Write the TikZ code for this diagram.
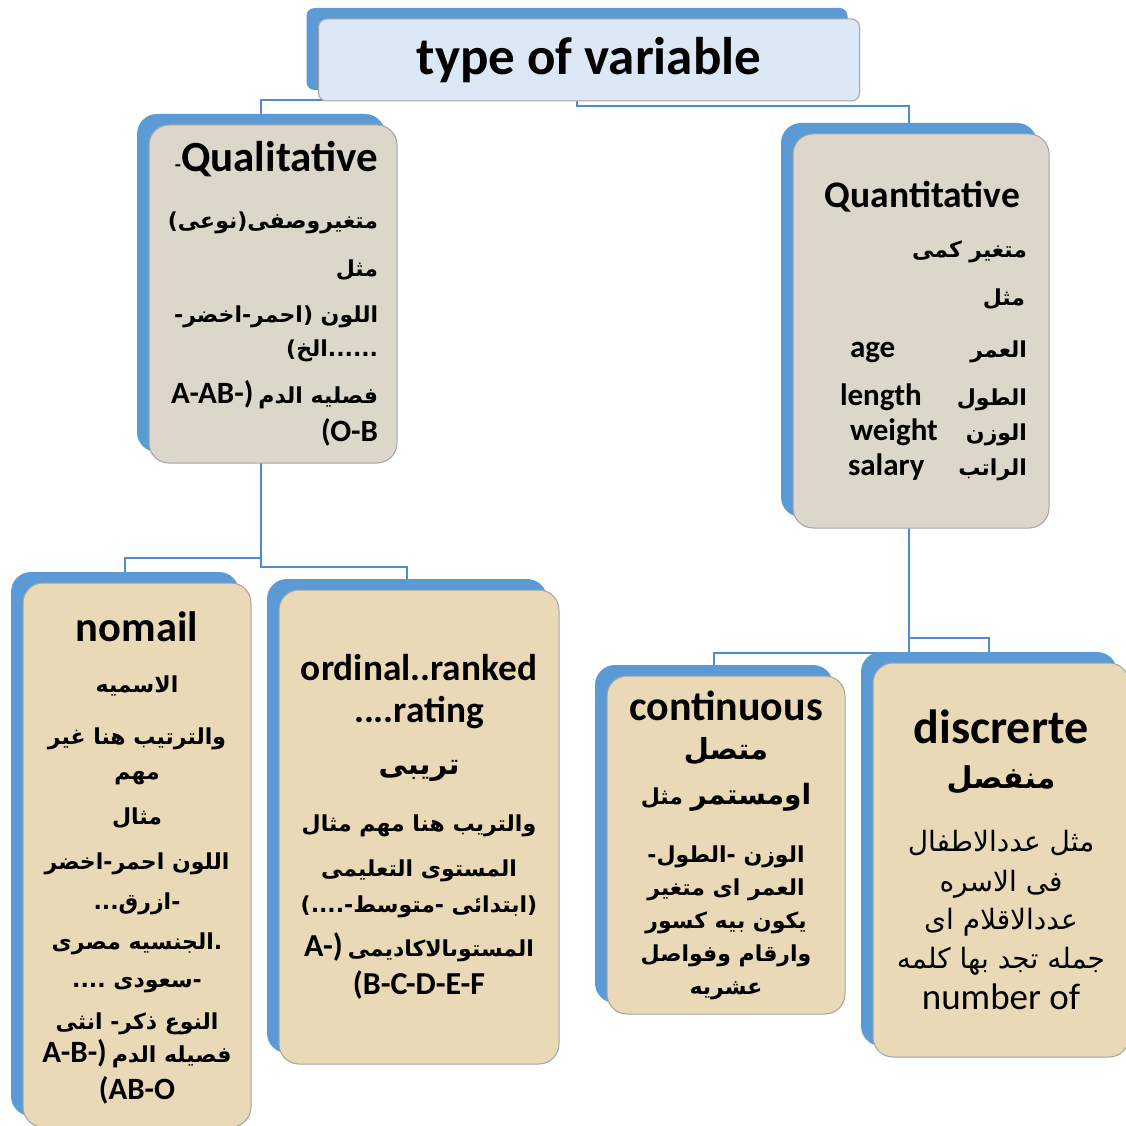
\documentclass[tikz,border=0pt]{standalone}
\usepackage{fontspec}
\setmainfont{Carlito}
\newfontfamily\arabicfont[Script=Arabic]{DejaVu Sans}
\TeXXeTstate=1
\usepackage{tikz}
\usetikzlibrary{positioning}
\usetikzlibrary{backgrounds}
\definecolor{boxblue}{HTML}{5B9BD5}
\definecolor{linkblue}{HTML}{4F8CCB}
\definecolor{titlefill}{HTML}{DCE8F5}
\definecolor{stonefill}{HTML}{DDD6CA}
\definecolor{parchfill}{HTML}{E9D9B6}
\definecolor{edgegray}{HTML}{A3A3A3}
\newcommand{\artxt}[1]{{\arabicfont\beginR #1\endR}}
\newcommand{\fsz}[1]{\fontsize{#1}{#1}\selectfont}
\newcommand{\boxfont}[1]{\bfseries\fontsize{22}{#1}\selectfont\lineskiplimit=-100pt\relax}
\newcommand{\plainfont}[1]{\mdseries\fontsize{28}{#1}\selectfont\lineskiplimit=-100pt\relax}
\newcommand{\pairline}[3]{\makebox[#1pt][l]{\fsz{31}#2}\makebox[70pt][r]{\artxt{#3}}}
\tikzstyle{box_back}=[fill=boxblue, rounded corners=20pt, inner sep=0pt]
\tikzstyle{box_front}=[draw=edgegray, line width=1pt, rounded corners=20pt, inner sep=0pt, font=\bfseries]
\tikzstyle{box_stone}=[box_front, fill=stonefill]
\tikzstyle{box_parch}=[box_front, fill=parchfill]
\tikzstyle{link}=[draw=linkblue, line width=2.5pt]

\begin{document}
\begin{tikzpicture}[x=1pt,y=-1pt]
\useasboundingbox (0,0) rectangle (1126,1126);
% back plates
\node[box_back, rounded corners=8pt, minimum width=541pt, minimum height=82pt] (back0) at (577,49){};
\node[box_back, minimum width=248pt, minimum height=338pt] (back1) at (261,283){};
\node[box_back, minimum width=256pt, minimum height=394pt] (back2) at (909,320){};
\node[box_back, minimum width=228pt, minimum height=544pt] (back3) at (125,844){};
\node[box_back, minimum width=280pt, minimum height=474pt] (back4) at (407,816){};
\node[box_back, minimum width=238pt, minimum height=338pt] (back5) at (714,834){};
\node[box_back, minimum width=256pt, minimum height=394pt] (back6) at (989,849){};
% front boxes
\node[box_front, fill=titlefill, rounded corners=8pt, minimum width=541pt, minimum height=82pt,
  font=\bfseries\fsz{53}] (var0) at ([shift={(12,11)}]back0){type of variable};
\node[box_stone, minimum width=248pt, minimum height=338pt, align=right,
  font=\boxfont{34}] (var1) at ([shift={(12,11)}]back1){%
{\fsz{43}{\fsz{20}-}Qualitative}\\[23pt]
\artxt{متغيروصفى(نوعى)}\\[14pt]
\artxt{مثل}\\[12pt]
\artxt{اللون (احمر-اخضر-}\\[0pt]
\artxt{......الخ)}\\[13pt]
{\fsz{31}A-AB-)} \artxt{فصليه الدم}\\[4pt]
{\fsz{31}(O-B}};
\node[box_stone, minimum width=256pt, minimum height=394pt, text width=212pt, align=right,
  font=\boxfont{40}] (var2) at ([shift={(12,11)}]back2){%
{\fsz{37.5}Quantitative}\hspace{7pt}\mbox{}\\[10pt]
\artxt{متغير كمى}\\[8pt]
\artxt{مثل}\hspace{2pt}\mbox{}\\[12pt]
\pairline{107}{age}{العمر}\\[8pt]
\pairline{117}{length}{الطول}\\[-5pt]
\pairline{107}{weight}{الوزن}\\[-5pt]
\pairline{109}{salary}{الراتب}};
\node[box_parch, minimum width=228pt, minimum height=544pt, align=center,
  font=\boxfont{34}] (var3) at ([shift={(12,11)}]back3){%
\raisebox{-6pt}[\height][\depth]{\fsz{42.5}nomail}\\[23pt]
\artxt{الاسميه}\\[18pt]
\artxt{والترتيب هنا غير}\\[1pt]
\artxt{مهم}\\[11pt]
\artxt{مثال}\\[11pt]
\artxt{اللون احمر-اخضر}\\[6pt]
\artxt{-ازرق...}\\[6pt]
\artxt{.الجنسيه مصرى}\\[4pt]
\artxt{-سعودى ....}\\[8pt]
\artxt{النوع ذكر- انثى}\\[-1pt]
{\fsz{31}A-B-)} \artxt{فصيله الدم}\\[3pt]
{\fsz{31}(AB-O}};
\node[box_parch, minimum width=280pt, minimum height=474pt, align=center,
  font=\boxfont{36}] (var4) at ([shift={(12,11)}]back4){%
{\fsz{37.3}ordinal..ranked}\\[6pt]
{\fsz{37.3}....rating}\\[16pt]
{\fsz{29}\artxt{تريبى}}\\[21pt]
\artxt{والتريب هنا مهم مثال}\\[9pt]
\artxt{المستوى التعليمى}\\[0pt]
\artxt{(ابتدائى -متوسط-....)}\\[8pt]
{\fsz{32}A-)} \artxt{المستوىالاكاديمى}\\[2pt]
{\fsz{32}(B-C-D-E-F}};
\node[box_parch, minimum width=238pt, minimum height=338pt, align=center,
  font=\boxfont{33}] (var5) at ([shift={(12,11)}]back5){%
{\fsz{42}continuous}\\[6pt]
{\fsz{29}\artxt{متصل}}\\[12pt]
\artxt{{\fsz{28}اومستمر} {\fsz{22}مثل}}\\[25pt]
\artxt{الوزن -الطول-}\\
\artxt{العمر اى متغير}\\
\artxt{يكون بيه كسور}\\
\artxt{وارقام  وفواصل}\\
\artxt{عشريه}};
\node[box_parch, minimum width=256pt, minimum height=394pt, align=center,
  font=\plainfont{39}] (var6) at ([shift={(12,11)}]back6){%
{\bfseries\fsz{48}discrerte}\\[6pt]
{\bfseries\fsz{30}\artxt{منفصل}}\\[24pt]
\artxt{مثل عددالاطفال}\\[1pt]
\artxt{فى الاسره}\\[-1pt]
\artxt{عددالاقلام  اى}\\
\artxt{جمله تجد بها كلمه}\\[2pt]
{\fsz{37}number of}};
% connectors
\begin{scope}[on background layer]
\draw[link] (back0.south) -- ++(0,10) -| (back1.north);
\draw[link] (back0.south) -- ++(0,16) -| (back2.north);
\draw[link] (back1.south) -- ++(0,106) -| (back3.north);
\draw[link] (back1.south) -- ++(0,115) -| (back4.north);
\draw[link] (back2.south) -- ++(0,121) -| (back6.north);
\draw[link] (back2.south) -- ++(0,136) -| (back5.north);
\end{scope}
\end{tikzpicture}
\end{document}
